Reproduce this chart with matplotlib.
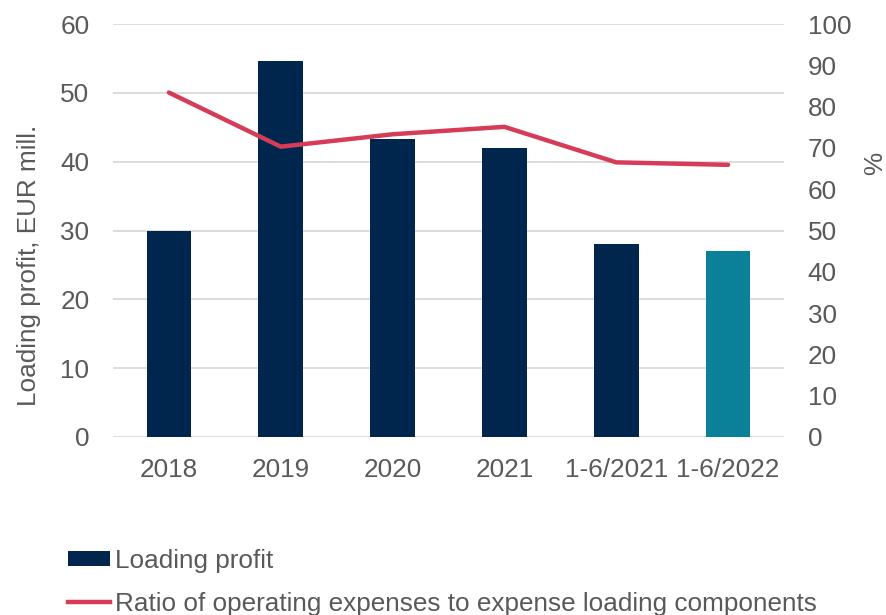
import matplotlib
matplotlib.use("Agg")
import matplotlib.pyplot as plt
from matplotlib.patches import Patch
from matplotlib.lines import Line2D

categories = ["2018", "2019", "2020", "2021", "1-6/2021", "1-6/2022"]
loading_profit = [30.0, 54.6, 43.3, 42.0, 28.0, 27.0]
ratio_pct = [83.4, 70.3, 73.3, 75.1, 66.5, 65.9]
left_ticks = [0, 10, 20, 30, 40, 50, 60]
right_ticks = [0, 10, 20, 30, 40, 50, 60, 70, 80, 90, 100]

navy = "#00264D"
teal = "#0A8099"
red = "#D63C57"
grey_text = "#595959"
fs = 18.8

plt.rcParams["font.family"] = ["Liberation Sans", "DejaVu Sans"]

W, H = 887, 615
L, R, T, B = 113, 784, 24, 437
fig = plt.figure(figsize=(W / 100, H / 100), dpi=100)
ax = fig.add_axes([L / W, 1 - B / H, (R - L) / W, (B - T) / H])
x = list(range(len(categories)))
colors = [navy] * 5 + [teal]
ax.bar(x, loading_profit, width=0.4, color=colors, zorder=3)
ax.set_ylim(0, 60)
ax.set_xlim(-0.5, len(categories) - 0.5)
ax.set_yticks(left_ticks)
ax.yaxis.grid(True, color="#D9D9D9", linewidth=1.3, zorder=0)
ax.set_axisbelow(True)
for s in ax.spines.values():
    s.set_visible(False)
ax.tick_params(axis="y", length=0, labelsize=fs, colors=grey_text, pad=17)
ax.tick_params(axis="x", length=0, labelsize=fs, colors=grey_text, pad=15)
ax.set_xticks(x)
ax.set_xticklabels(categories)
ax.set_ylabel("Loading profit, EUR mill.", fontsize=fs, color=grey_text)
ax.yaxis.set_label_coords((41 - L) / (R - L), (B - 265) / (B - T))

ax2 = ax.twinx()
ax2.plot(x, ratio_pct, color=red, linewidth=3.2, zorder=4, solid_capstyle="round")
ax2.set_ylim(0, 100)
ax2.set_yticks(right_ticks)
for s in ax2.spines.values():
    s.set_visible(False)
ax2.tick_params(axis="y", length=0, labelsize=fs, colors=grey_text, pad=17)
ax2.set_ylabel("%", fontsize=fs, color=grey_text, rotation=90)
ax2.yaxis.set_label_coords((863 - L) / (R - L), (B - 163) / (B - T))

handles = [Patch(facecolor=navy, label="Loading profit"),
           Line2D([0], [0], color=red, linewidth=3.2, label="Ratio of operating expenses to expense loading components")]
fig.legend(handles=handles, loc="upper left", bbox_to_anchor=(68 / W, 1 - 549 / H), frameon=False,
           fontsize=fs, labelcolor=grey_text, handlelength=1.6, handleheight=0.5,
           handletextpad=0.2, labelspacing=0.72, borderaxespad=0, borderpad=0)

fig.savefig("out.png", dpi=100)
